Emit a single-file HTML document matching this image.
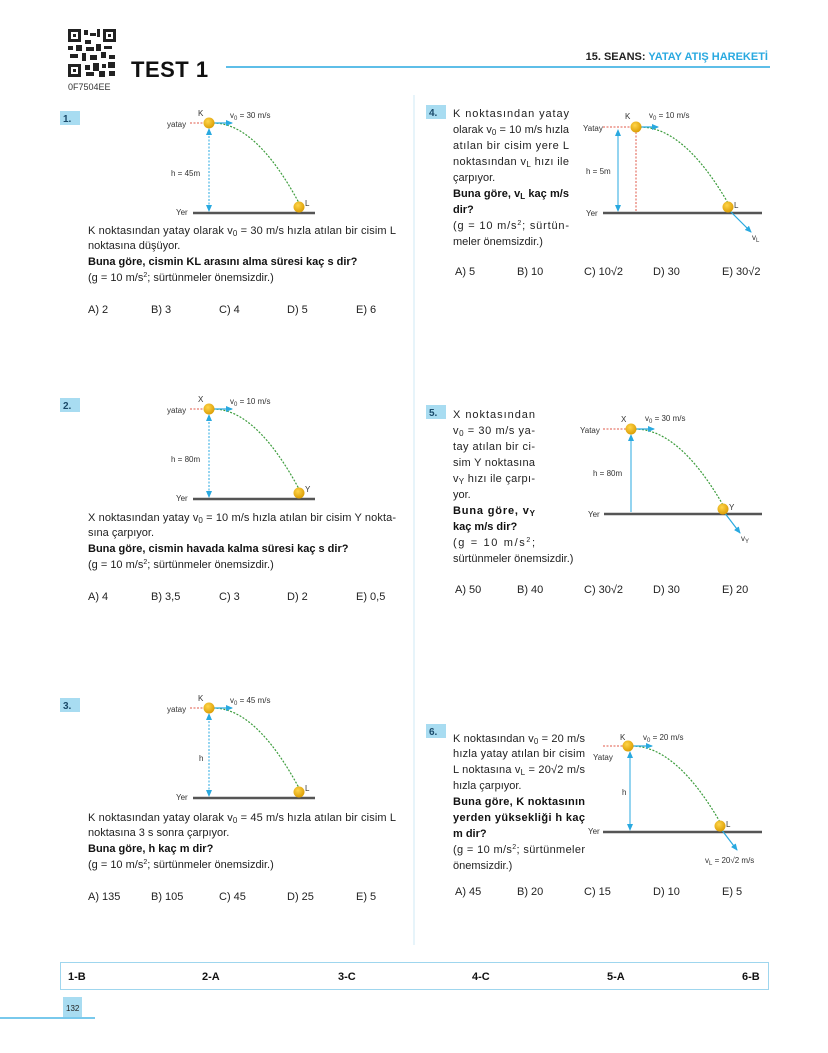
<!DOCTYPE html>
<html><head><meta charset="utf-8"><style>
html,body{margin:0;padding:0;background:#fff}
svg{display:block;font-family:"Liberation Sans",sans-serif}
.t{font-size:11px;fill:#222}
.b{font-size:11px;font-weight:bold;fill:#111}
.s{font-size:8px;fill:#333}
.n{font-size:10px;font-weight:bold;fill:#1a4a6a}
</style></head><body>
<svg width="828" height="1053" viewBox="0 0 828 1053" xmlns="http://www.w3.org/2000/svg">
<defs>
<marker id="ah" markerWidth="8" markerHeight="8" refX="6" refY="3" orient="auto" markerUnits="userSpaceOnUse"><path d="M0,0 L7,3 L0,6z" fill="#29a9e0"/></marker>
<marker id="as" markerWidth="8" markerHeight="8" refX="6" refY="3" orient="auto-start-reverse" markerUnits="userSpaceOnUse"><path d="M0,0 L7,3 L0,6z" fill="#29a9e0"/></marker>
<radialGradient id="ball" cx="0.4" cy="0.35" r="0.7"><stop offset="0" stop-color="#ffd54a"/><stop offset="1" stop-color="#d99a00"/></radialGradient>
</defs>
<!-- header -->
<g fill="#222">
<rect x="68" y="29" width="48" height="48" fill="#fff"/>
<rect x="68" y="29" width="13" height="13"/><rect x="71" y="32" width="7" height="7" fill="#fff"/><rect x="73" y="34" width="3" height="3"/>
<rect x="103" y="29" width="13" height="13"/><rect x="106" y="32" width="7" height="7" fill="#fff"/><rect x="108" y="34" width="3" height="3"/>
<rect x="68" y="64" width="13" height="13"/><rect x="71" y="67" width="7" height="7" fill="#fff"/><rect x="73" y="69" width="3" height="3"/>
<rect x="84" y="30" width="4" height="5"/><rect x="90" y="33" width="6" height="3"/><rect x="97" y="29" width="3" height="8"/><rect x="85" y="40" width="6" height="4"/>
<rect x="68" y="46" width="5" height="4"/><rect x="76" y="45" width="6" height="6"/><rect x="86" y="47" width="8" height="4"/><rect x="96" y="44" width="5" height="7"/><rect x="104" y="46" width="8" height="3"/>
<rect x="70" y="54" width="8" height="4"/><rect x="82" y="53" width="4" height="8"/><rect x="90" y="55" width="7" height="5"/><rect x="101" y="52" width="5" height="6"/><rect x="109" y="55" width="6" height="4"/>
<rect x="85" y="65" width="5" height="5"/><rect x="93" y="63" width="6" height="8"/><rect x="102" y="64" width="4" height="4"/><rect x="108" y="62" width="7" height="6"/><rect x="86" y="72" width="8" height="4"/><rect x="99" y="71" width="6" height="6"/><rect x="109" y="71" width="6" height="5"/>
</g>
<text x="68" y="90" style="font-size:9px;fill:#333">0F7504EE</text>
<text x="131" y="77" style="font-size:22px;font-weight:900;fill:#111;letter-spacing:0.5px">TEST 1</text>
<line x1="226" y1="67" x2="770" y2="67" stroke="#29a9e0" stroke-width="1.5"/>
<text x="768" y="60" text-anchor="end" style="font-size:11px;font-weight:bold;fill:#222">15. SEANS: <tspan fill="#29a9e0">YATAY ATIŞ HAREKETİ</tspan></text>
<line x1="414" y1="95" x2="414" y2="945" stroke="#cfe9f5" stroke-width="1"/>

<!-- left diagrams Q1-3 -->
<g id="d1">
<text x="167" y="127" class="s">yatay</text>
<line x1="190" y1="123" x2="204" y2="123" stroke="#e05a4a" stroke-width="1" stroke-dasharray="2,1.5"/>
<line x1="209" y1="129" x2="209" y2="211" stroke="#29a9e0" stroke-width="1" stroke-dasharray="2,1.5" marker-start="url(#as)" marker-end="url(#as)"/>
<path d="M213,123 Q256,123 299,203" fill="none" stroke="#3c9c3c" stroke-width="1.2" stroke-dasharray="2,1.5"/>
<line x1="209" y1="213" x2="315" y2="213" stroke="#555" stroke-width="2.5"/>
<line x1="193" y1="213" x2="209" y2="213" stroke="#555" stroke-width="2.5"/>
<text x="176" y="215" class="s">Yer</text>
<line x1="214" y1="123" x2="232" y2="123" stroke="#29a9e0" stroke-width="1.2" marker-end="url(#ah)"/>
<circle cx="209" cy="123" r="5.5" fill="url(#ball)"/>
<circle cx="299" cy="207" r="5.5" fill="url(#ball)"/>
</g>
<use href="#d1" y="286"/>
<use href="#d1" y="585"/>
<rect x="168" y="168" width="40" height="10" fill="#fff"/>
<text x="171" y="176" class="s">h = 45m</text>
<text x="198" y="116" class="s">K</text><text x="305" y="206" class="s">L</text>
<text x="230" y="118" class="s">v<tspan dy="2" font-size="6">0</tspan><tspan dy="-2"> = 30 m/s</tspan></text>
<rect x="168" y="454" width="40" height="10" fill="#fff"/>
<text x="171" y="462" class="s">h = 80m</text>
<text x="198" y="402" class="s">X</text><text x="305" y="492" class="s">Y</text>
<text x="230" y="404" class="s">v<tspan dy="2" font-size="6">0</tspan><tspan dy="-2"> = 10 m/s</tspan></text>
<rect x="196" y="753" width="12" height="10" fill="#fff"/>
<text x="199" y="761" class="s">h</text>
<text x="198" y="701" class="s">K</text><text x="305" y="791" class="s">L</text>
<text x="230" y="703" class="s">v<tspan dy="2" font-size="6">0</tspan><tspan dy="-2"> = 45 m/s</tspan></text>

<!-- badges -->
<g fill="#a8dcf1">
<rect x="60" y="111" width="20" height="14"/><rect x="60" y="398" width="20" height="14"/><rect x="60" y="698" width="20" height="14"/>
<rect x="426" y="105" width="20" height="14"/><rect x="426" y="405" width="20" height="14"/><rect x="426" y="724" width="20" height="14"/>
</g>
<text x="63" y="122" class="n">1.</text><text x="63" y="409" class="n">2.</text><text x="63" y="709" class="n">3.</text>
<text x="429" y="116" class="n">4.</text><text x="429" y="416" class="n">5.</text><text x="429" y="735" class="n">6.</text>

<!-- Q1 text -->
<text x="88" y="234" class="t" textLength="308" lengthAdjust="spacing">K noktasından yatay olarak v<tspan dy="2" font-size="8">0</tspan><tspan dy="-2"> = 30 m/s hızla atılan bir cisim L</tspan></text>
<text x="88" y="249" class="t">noktasına düşüyor.</text>
<text x="88" y="265" class="b">Buna göre, cismin KL arasını alma süresi kaç s dir?</text>
<text x="88" y="281" class="t">(g = 10 m/s<tspan dy="-4" font-size="7">2</tspan><tspan dy="4">; sürtünmeler önemsizdir.)</tspan></text>
<g class="t"><text x="88" y="313">A) 2</text><text x="151" y="313">B) 3</text><text x="219" y="313">C) 4</text><text x="287" y="313">D) 5</text><text x="356" y="313">E) 6</text></g>
<!-- Q2 -->
<text x="88" y="521" class="t" textLength="308" lengthAdjust="spacing">X noktasından yatay v<tspan dy="2" font-size="8">0</tspan><tspan dy="-2"> = 10 m/s hızla atılan bir cisim Y nokta-</tspan></text>
<text x="88" y="536" class="t">sına çarpıyor.</text>
<text x="88" y="552" class="b">Buna göre, cismin havada kalma süresi kaç s dir?</text>
<text x="88" y="568" class="t">(g = 10 m/s<tspan dy="-4" font-size="7">2</tspan><tspan dy="4">; sürtünmeler önemsizdir.)</tspan></text>
<g class="t"><text x="88" y="600">A) 4</text><text x="151" y="600">B) 3,5</text><text x="219" y="600">C) 3</text><text x="287" y="600">D) 2</text><text x="356" y="600">E) 0,5</text></g>
<!-- Q3 -->
<text x="88" y="821" class="t" textLength="308" lengthAdjust="spacing">K noktasından yatay olarak v<tspan dy="2" font-size="8">0</tspan><tspan dy="-2"> = 45 m/s hızla atılan bir cisim L</tspan></text>
<text x="88" y="836" class="t">noktasına 3 s sonra çarpıyor.</text>
<text x="88" y="852" class="b">Buna göre, h kaç m dir?</text>
<text x="88" y="868" class="t">(g = 10 m/s<tspan dy="-4" font-size="7">2</tspan><tspan dy="4">; sürtünmeler önemsizdir.)</tspan></text>
<g class="t"><text x="88" y="900">A) 135</text><text x="151" y="900">B) 105</text><text x="219" y="900">C) 45</text><text x="287" y="900">D) 25</text><text x="356" y="900">E) 5</text></g>

<!-- Q4 -->
<g class="t">
<text x="453" y="117" textLength="116" lengthAdjust="spacing">K noktasından yatay</text>
<text x="453" y="133" textLength="116" lengthAdjust="spacing">olarak v<tspan dy="2" font-size="8">0</tspan><tspan dy="-2"> = 10 m/s hızla</tspan></text>
<text x="453" y="149" textLength="116" lengthAdjust="spacing">atılan bir cisim yere L</text>
<text x="453" y="165" textLength="116" lengthAdjust="spacing">noktasından v<tspan dy="2" font-size="8">L</tspan><tspan dy="-2"> hızı ile</tspan></text>
<text x="453" y="181">çarpıyor.</text>
<text x="453" y="229" textLength="116" lengthAdjust="spacing">(g = 10 m/s<tspan dy="-4" font-size="7">2</tspan><tspan dy="4">; sürtün-</tspan></text>
<text x="453" y="245">meler önemsizdir.)</text>
<text x="455" y="275">A) 5</text><text x="517" y="275">B) 10</text><text x="584" y="275">C) 10√2</text><text x="653" y="275">D) 30</text><text x="722" y="275">E) 30√2</text>
</g>
<text x="453" y="197" class="b" textLength="116" lengthAdjust="spacing">Buna göre, v<tspan dy="2" font-size="8">L</tspan><tspan dy="-2"> kaç m/s</tspan></text>
<text x="453" y="213" class="b">dir?</text>
<text x="583" y="131" class="s">Yatay</text>
<line x1="603" y1="127" x2="630" y2="127" stroke="#e05a4a" stroke-dasharray="2,1.5"/>
<line x1="636" y1="132" x2="636" y2="212" stroke="#e05a4a" stroke-dasharray="2,1.5"/>
<line x1="618" y1="130" x2="618" y2="211" stroke="#29a9e0" stroke-width="1" marker-start="url(#as)" marker-end="url(#as)"/>
<rect x="585" y="166" width="32" height="10" fill="#fff"/>
<text x="586" y="174" class="s">h = 5m</text>
<text x="586" y="216" class="s">Yer</text>
<line x1="603" y1="213" x2="762" y2="213" stroke="#555" stroke-width="2.5"/>
<path d="M640,127 Q684,127 728,203" fill="none" stroke="#3c9c3c" stroke-width="1.2" stroke-dasharray="2,1.5"/>
<line x1="641" y1="127" x2="658" y2="127" stroke="#29a9e0" stroke-width="1.2" marker-end="url(#ah)"/>
<line x1="729" y1="210" x2="751" y2="232" stroke="#29a9e0" stroke-width="1.2" marker-end="url(#ah)"/>
<circle cx="636" cy="127" r="5.5" fill="url(#ball)"/><circle cx="728" cy="207" r="5.5" fill="url(#ball)"/>
<text x="625" y="119" class="s">K</text><text x="734" y="208" class="s">L</text>
<text x="649" y="118" class="s">v<tspan dy="2" font-size="6">0</tspan><tspan dy="-2"> = 10 m/s</tspan></text>
<text x="752" y="240" class="s">v<tspan dy="2" font-size="6">L</tspan></text>

<!-- Q5 -->
<g class="t">
<text x="453" y="418" textLength="82" lengthAdjust="spacing">X noktasından</text>
<text x="453" y="434" textLength="82" lengthAdjust="spacing">v<tspan dy="2" font-size="8">0</tspan><tspan dy="-2"> = 30 m/s ya-</tspan></text>
<text x="453" y="450" textLength="82" lengthAdjust="spacing">tay atılan bir ci-</text>
<text x="453" y="466" textLength="82" lengthAdjust="spacing">sim Y noktasına</text>
<text x="453" y="482" textLength="82" lengthAdjust="spacing">v<tspan dy="2" font-size="8">Y</tspan><tspan dy="-2"> hızı ile çarpı-</tspan></text>
<text x="453" y="498">yor.</text>
<text x="453" y="546" textLength="82" lengthAdjust="spacing">(g = 10 m/s<tspan dy="-4" font-size="7">2</tspan><tspan dy="4">;</tspan></text>
<text x="453" y="562">sürtünmeler önemsizdir.)</text>
<text x="455" y="593">A) 50</text><text x="517" y="593">B) 40</text><text x="584" y="593">C) 30√2</text><text x="653" y="593">D) 30</text><text x="722" y="593">E) 20</text>
</g>
<text x="453" y="514" class="b" textLength="82" lengthAdjust="spacing">Buna göre, v<tspan dy="2" font-size="8">Y</tspan></text>
<text x="453" y="530" class="b">kaç m/s dir?</text>
<text x="580" y="433" class="s">Yatay</text>
<line x1="603" y1="429" x2="626" y2="429" stroke="#e05a4a" stroke-dasharray="2,1.5"/>
<line x1="631" y1="435" x2="631" y2="512" stroke="#29a9e0" marker-start="url(#as)"/>
<rect x="592" y="468" width="36" height="10" fill="#fff"/>
<text x="593" y="476" class="s">h = 80m</text>
<text x="588" y="517" class="s">Yer</text>
<line x1="604" y1="514" x2="762" y2="514" stroke="#555" stroke-width="2.5"/>
<path d="M635,429 Q679,429 723,505" fill="none" stroke="#3c9c3c" stroke-width="1.2" stroke-dasharray="2,1.5"/>
<line x1="636" y1="429" x2="654" y2="429" stroke="#29a9e0" stroke-width="1.2" marker-end="url(#ah)"/>
<line x1="724" y1="512" x2="740" y2="533" stroke="#29a9e0" stroke-width="1.2" marker-end="url(#ah)"/>
<circle cx="631" cy="429" r="5.5" fill="url(#ball)"/><circle cx="723" cy="509" r="5.5" fill="url(#ball)"/>
<text x="621" y="422" class="s">X</text><text x="729" y="510" class="s">Y</text>
<text x="645" y="421" class="s">v<tspan dy="2" font-size="6">0</tspan><tspan dy="-2"> = 30 m/s</tspan></text>
<text x="741" y="541" class="s">v<tspan dy="2" font-size="6">Y</tspan></text>

<!-- Q6 -->
<g class="t">
<text x="453" y="742" textLength="132" lengthAdjust="spacing">K noktasından v<tspan dy="2" font-size="8">0</tspan><tspan dy="-2"> = 20 m/s</tspan></text>
<text x="453" y="757" textLength="132" lengthAdjust="spacing">hızla yatay atılan bir cisim</text>
<text x="453" y="773" textLength="132" lengthAdjust="spacing">L noktasına v<tspan dy="2" font-size="8">L</tspan><tspan dy="-2"> = 20√2 m/s</tspan></text>
<text x="453" y="789">hızla çarpıyor.</text>
<text x="453" y="853" textLength="132" lengthAdjust="spacing">(g = 10 m/s<tspan dy="-4" font-size="7">2</tspan><tspan dy="4">; sürtünmeler</tspan></text>
<text x="453" y="869">önemsizdir.)</text>
<text x="455" y="895">A) 45</text><text x="517" y="895">B) 20</text><text x="584" y="895">C) 15</text><text x="653" y="895">D) 10</text><text x="722" y="895">E) 5</text>
</g>
<text x="453" y="805" class="b" textLength="132" lengthAdjust="spacing">Buna göre, K noktasının</text>
<text x="453" y="821" class="b" textLength="132" lengthAdjust="spacing">yerden yüksekliği h kaç</text>
<text x="453" y="837" class="b">m dir?</text>
<text x="593" y="760" class="s">Yatay</text>
<line x1="603" y1="746" x2="623" y2="746" stroke="#e05a4a" stroke-dasharray="2,1.5"/>
<line x1="630" y1="752" x2="630" y2="830" stroke="#29a9e0" marker-start="url(#as)" marker-end="url(#as)"/>
<text x="622" y="795" class="s">h</text>
<text x="588" y="834" class="s">Yer</text>
<line x1="603" y1="832" x2="762" y2="832" stroke="#555" stroke-width="2.5"/>
<path d="M632,746 Q676,746 720,822" fill="none" stroke="#3c9c3c" stroke-width="1.2" stroke-dasharray="2,1.5"/>
<line x1="633" y1="746" x2="652" y2="746" stroke="#29a9e0" stroke-width="1.2" marker-end="url(#ah)"/>
<line x1="721" y1="829" x2="737" y2="850" stroke="#29a9e0" stroke-width="1.2" marker-end="url(#ah)"/>
<circle cx="628" cy="746" r="5.5" fill="url(#ball)"/><circle cx="720" cy="826" r="5.5" fill="url(#ball)"/>
<text x="620" y="740" class="s">K</text><text x="726" y="827" class="s">L</text>
<text x="643" y="740" class="s">v<tspan dy="2" font-size="6">0</tspan><tspan dy="-2"> = 20 m/s</tspan></text>
<text x="705" y="863" class="s">v<tspan dy="2" font-size="6">L</tspan><tspan dy="-2"> = 20√2 m/s</tspan></text>

<!-- answers -->
<rect x="60.5" y="962.5" width="708" height="27" fill="#fff" stroke="#9fd6ee" stroke-width="1"/>
<g class="b"><text x="68" y="980">1-B</text><text x="202" y="980">2-A</text><text x="338" y="980">3-C</text><text x="472" y="980">4-C</text><text x="607" y="980">5-A</text><text x="742" y="980">6-B</text></g>
<rect x="63" y="997" width="19" height="20" fill="#a8dcf1"/>
<text x="66" y="1011" style="font-size:8px;fill:#222">132</text>
<line x1="0" y1="1018" x2="95" y2="1018" stroke="#29a9e0" stroke-width="1.2"/>
</svg>
</body></html>
